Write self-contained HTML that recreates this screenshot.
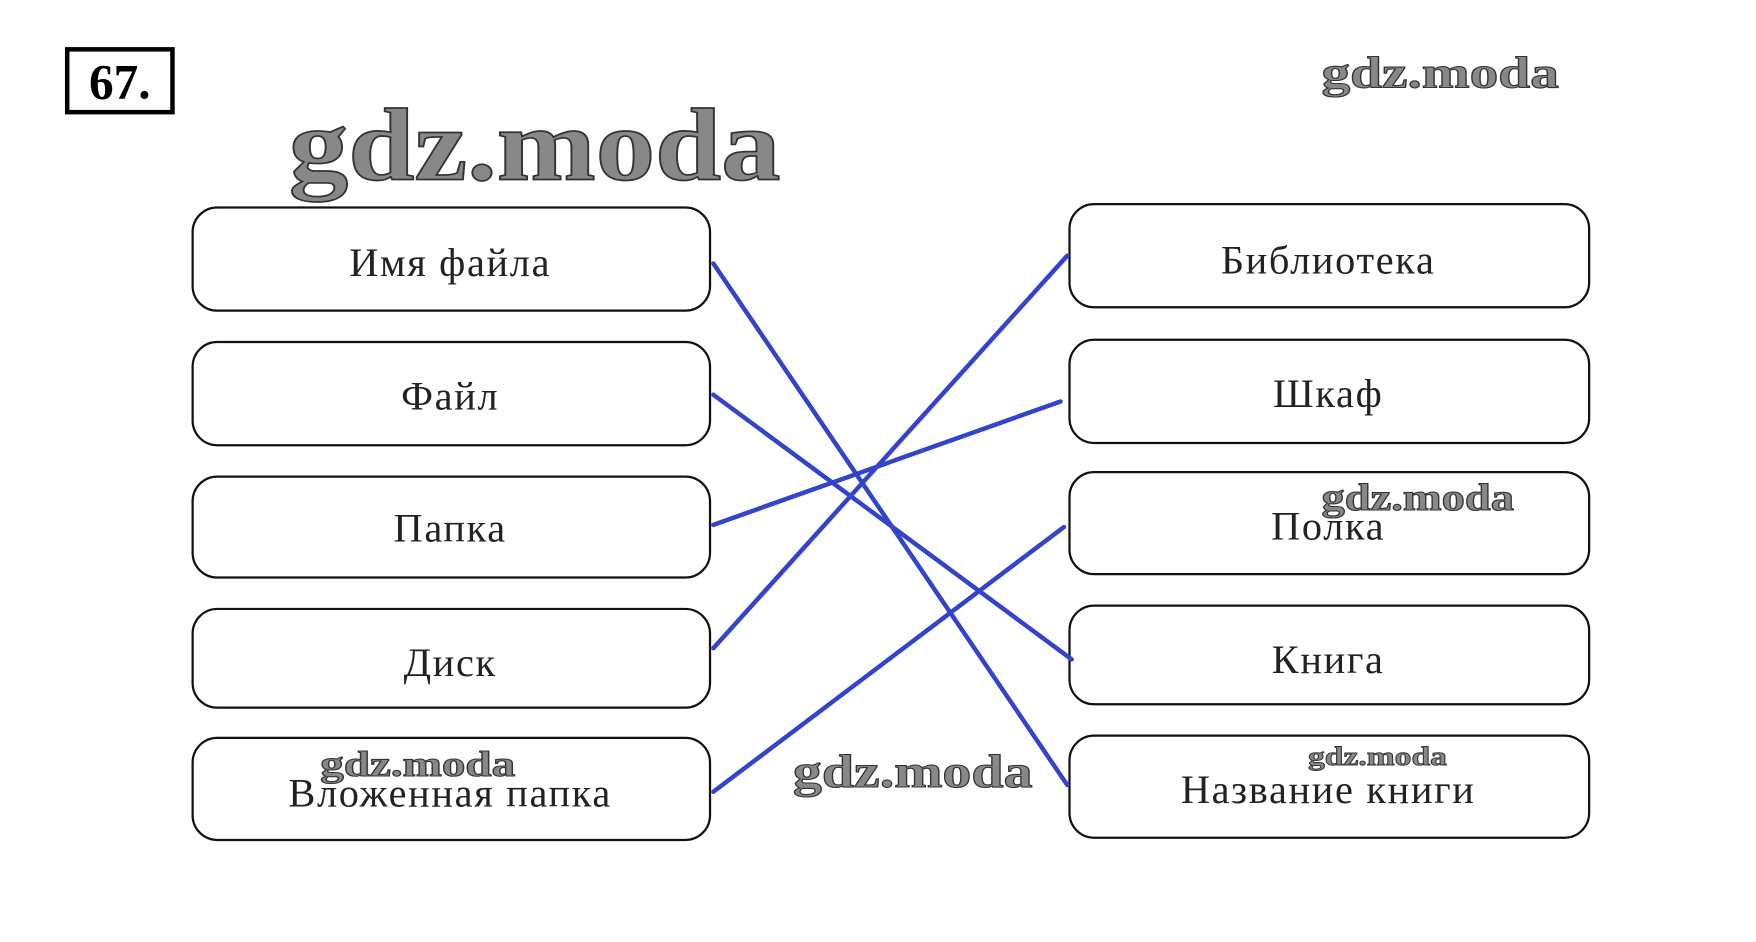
<!DOCTYPE html>
<html><head><meta charset="utf-8"><style>
html,body{margin:0;padding:0;background:#fff;}
svg{display:block;}
</style></head><body>
<svg width="1756" height="942" viewBox="0 0 1568 840" preserveAspectRatio="none" xmlns="http://www.w3.org/2000/svg">
<rect x="0" y="0" width="1568" height="840" fill="#fff"/>
<rect x="60" y="44" width="94" height="56" fill="none" stroke="#000" stroke-width="4"/>
<text x="107" y="88" font-family="Liberation Serif, serif" font-size="44" font-weight="bold" text-anchor="middle">67.</text>
<g font-family="Liberation Serif, serif" font-weight="bold" fill="#888" stroke="#333" stroke-width="1.5">
<text x="258" y="160" font-size="92" textLength="439" lengthAdjust="spacingAndGlyphs">gdz.moda</text>
<text x="1180" y="78" font-size="40" textLength="212" lengthAdjust="spacingAndGlyphs" stroke-width="1">gdz.moda</text>
<text x="1180" y="455" font-size="34" textLength="172" lengthAdjust="spacingAndGlyphs" stroke-width="1">gdz.moda</text>
<text x="286" y="692" font-size="32" textLength="174" lengthAdjust="spacingAndGlyphs" stroke-width="1">gdz.moda</text>
<text x="708" y="702" font-size="42" textLength="214" lengthAdjust="spacingAndGlyphs" stroke-width="1">gdz.moda</text>
<text x="1168" y="682" font-size="24" textLength="124" lengthAdjust="spacingAndGlyphs" stroke-width="0.8">gdz.moda</text>
</g>
<g fill="none" stroke="#111" stroke-width="2">
<rect x="172" y="185" width="462" height="92" rx="22"/>
<rect x="172" y="305" width="462" height="92" rx="22"/>
<rect x="172" y="425" width="462" height="90" rx="22"/>
<rect x="172" y="543" width="462" height="88" rx="22"/>
<rect x="172" y="658" width="462" height="91" rx="22"/>
<rect x="955" y="182" width="464" height="92" rx="22"/>
<rect x="955" y="303" width="464" height="92" rx="22"/>
<rect x="955" y="421" width="464" height="91" rx="22"/>
<rect x="955" y="540" width="464" height="88" rx="22"/>
<rect x="955" y="656" width="464" height="91" rx="22"/>
</g>
<g font-family="Liberation Serif, 'DejaVu Serif', serif" font-size="36" fill="#222" text-anchor="middle" letter-spacing="1.5">
<text x="402" y="246">Имя файла</text>
<text x="402" y="365">Файл</text>
<text x="402" y="483">Папка</text>
<text x="402" y="603">Диск</text>
<text x="402" y="719">Вложенная папка</text>
<text x="1186" y="244">Библиотека</text>
<text x="1186" y="363">Шкаф</text>
<text x="1186" y="481">Полка</text>
<text x="1186" y="600">Книга</text>
<text x="1186" y="716">Название книги</text>
</g>
<g stroke="#3344cc" stroke-width="4" stroke-linecap="round">
<line x1="637" y1="235" x2="953" y2="700"/>
<line x1="637" y1="352" x2="957" y2="588"/>
<line x1="637" y1="468" x2="947" y2="358"/>
<line x1="637" y1="578" x2="953" y2="228"/>
<line x1="637" y1="706" x2="950" y2="470"/>
</g>
</svg>
</body></html>
